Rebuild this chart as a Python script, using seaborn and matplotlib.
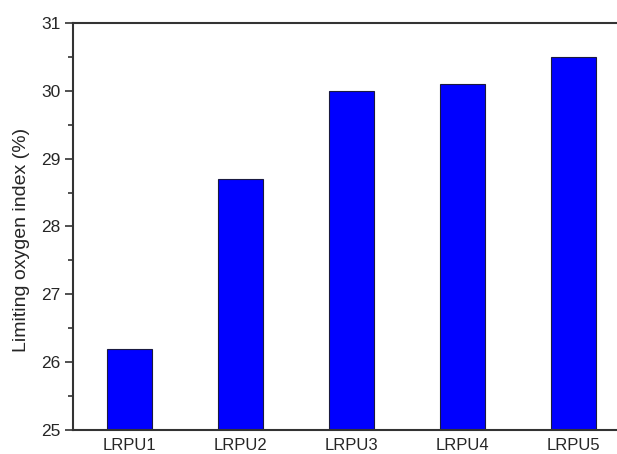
import matplotlib
matplotlib.use("Agg")
import matplotlib.pyplot as plt
import seaborn as sns
import pandas as pd
from matplotlib.ticker import MultipleLocator

samples = ["LRPU1", "LRPU2", "LRPU3", "LRPU4", "LRPU5"]
loi = [26.2, 28.7, 30.0, 30.1, 30.5]

df = pd.DataFrame({"sample": samples, "loi": loi})

sns.set_theme(style="white")
plt.rcParams["font.family"] = ["Liberation Sans", "DejaVu Sans"]

fig = plt.figure(figsize=(6.17, 4.54), dpi=100)
ax = fig.add_axes([73 / 617, 24 / 454, 557 / 617, 407 / 454])

sns.barplot(data=df, x="sample", y="loi", ax=ax, color="#0000FF",
            saturation=1, width=0.4, edgecolor="#1a1a40", linewidth=0.8)

ax.set_ylim(25, 31)
ax.set_xlim(-0.51, 4.51)
ax.yaxis.set_major_locator(MultipleLocator(1))
ax.yaxis.set_minor_locator(MultipleLocator(0.5))
ax.tick_params(axis="y", which="major", direction="out", length=6, width=1.2,
               color="#333333", labelsize=12.5, left=True, pad=3)
ax.tick_params(axis="y", which="minor", direction="out", length=3.5, width=1.2,
               color="#333333", left=True)
ax.tick_params(axis="x", length=0, labelsize=12, pad=6)
ax.set_xlabel("")
ax.set_ylabel("Limiting oxygen index (%)", fontsize=14)
ax.yaxis.set_label_coords(-0.077, 0.467)

for side in ["left", "bottom", "top"]:
    ax.spines[side].set_color("#333333")
    ax.spines[side].set_linewidth(1.5)
ax.spines["right"].set_visible(False)

fig.savefig("out.png", dpi=100)
